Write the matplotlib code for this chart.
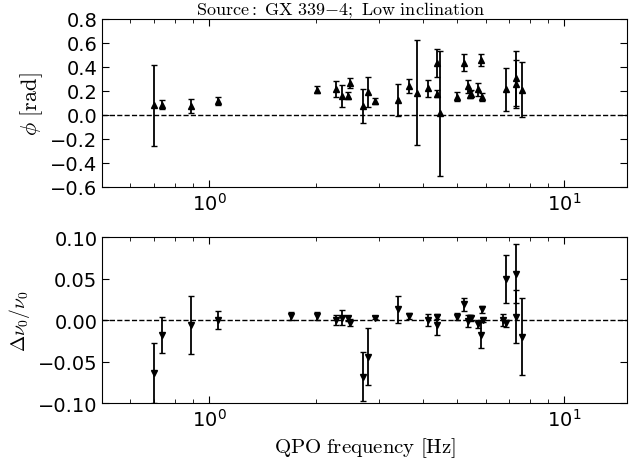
import matplotlib
matplotlib.use("Agg")
import matplotlib.pyplot as plt

# top panel: phase lag
freq_phi = [0.70, 0.736, 0.888, 1.06, 2.01, 2.28, 2.36, 2.46, 2.50, 2.72, 2.80, 2.93,
            3.41, 3.66, 3.85, 4.14, 4.37, 4.39, 4.47, 4.99, 5.21, 5.34, 5.41, 5.45,
            5.70, 5.81, 5.85, 6.83, 7.31, 7.31, 7.62]
phi = [0.08, 0.085, 0.072, 0.117, 0.21, 0.217, 0.16, 0.16, 0.264, 0.072, 0.189, 0.117,
       0.125, 0.239, 0.186, 0.222, 0.178, 0.433, 0.014, 0.152, 0.436, 0.24, 0.168, 0.178,
       0.212, 0.458, 0.15, 0.214, 0.305, 0.255, 0.211]
phi_err = [0.34, 0.036, 0.058, 0.035, 0.03, 0.065, 0.09, 0.03, 0.04, 0.14, 0.125, 0.025,
           0.13, 0.06, 0.44, 0.07, 0.03, 0.115, 0.52, 0.04, 0.07, 0.055, 0.03, 0.03,
           0.055, 0.05, 0.03, 0.18, 0.23, 0.2, 0.23]

# bottom panel: centroid shift
freq_nu = [0.70, 0.736, 0.888, 1.06, 1.70, 2.01, 2.28, 2.36, 2.46, 2.50, 2.72, 2.80,
           2.93, 3.41, 3.66, 4.14, 4.37, 4.39, 4.99, 5.21, 5.34, 5.41, 5.45, 5.70,
           5.81, 5.85, 5.91, 6.74, 6.83, 6.83, 7.31, 7.31, 7.62]
dnu = [-0.064, -0.018, -0.006, 0.0, 0.005, 0.005, 0.0, 0.003, 0.002, -0.003, -0.068, -0.044,
       0.003, 0.013, 0.005, 0.0, 0.004, -0.006, 0.004, 0.019, -0.001, 0.003, 0.002, -0.005,
       -0.018, 0.013, 0.0, 0.0, 0.049, -0.004, 0.056, 0.004, -0.020]
dnu_err = [0.036, 0.022, 0.035, 0.011, 0.005, 0.005, 0.006, 0.009, 0.003, 0.004, 0.03, 0.034,
           0.002, 0.016, 0.004, 0.007, 0.003, 0.012, 0.004, 0.008, 0.007, 0.003, 0.003, 0.005,
           0.016, 0.004, 0.002, 0.007, 0.029, 0.004, 0.036, 0.032, 0.046]

plt.rcParams['xtick.direction'] = 'in'
plt.rcParams['ytick.direction'] = 'in'
plt.rcParams['xtick.top'] = True
plt.rcParams['ytick.right'] = True
plt.rcParams['xtick.major.size'] = 5
plt.rcParams['xtick.minor.size'] = 3
plt.rcParams['ytick.major.size'] = 5
plt.rcParams['font.size'] = 13


def fmt(n):
    return matplotlib.ticker.FuncFormatter(
        lambda v, p: ('%.*f' % (n, v)).replace('-', '\u2212'))


fig = plt.figure(figsize=(6.39, 4.64), dpi=100)
ax1 = fig.add_axes([0.160, 0.595, 0.821, 0.362])
ax2 = fig.add_axes([0.160, 0.129, 0.821, 0.358])

ax1.errorbar(freq_phi, phi, yerr=phi_err, fmt='^', color='k', ms=5,
             elinewidth=1.3, capsize=2.5, capthick=1)
ax1.axhline(0, color='k', ls='--', lw=1)
ax1.set_xscale('log')
ax1.set_xlim(0.5, 15)
ax1.set_ylim(-0.6, 0.8)
ax1.set_yticks([-0.6, -0.4, -0.2, 0.0, 0.2, 0.4, 0.6, 0.8])
ax1.yaxis.set_major_formatter(fmt(1))
ax1.set_ylabel(r'$\phi\ \mathrm{[rad]}$', math_fontfamily='cm', fontsize=16)
ax1.set_title(r'$\mathrm{Source:\ GX\ 339{-}4;\ Low\ inclination}$',
              math_fontfamily='cm', fontsize=13, pad=2, x=0.455)

ax2.errorbar(freq_nu, dnu, yerr=dnu_err, fmt='v', color='k', ms=5,
             elinewidth=1.3, capsize=2.5, capthick=1)
ax2.axhline(0, color='k', ls='--', lw=1)
ax2.set_xscale('log')
ax2.set_xlim(0.5, 15)
ax2.set_ylim(-0.1, 0.1)
ax2.set_yticks([-0.10, -0.05, 0.0, 0.05, 0.10])
ax2.yaxis.set_major_formatter(fmt(2))
ax2.set_ylabel(r'$\Delta\nu_0/\nu_0$', math_fontfamily='cm', fontsize=14)
ax2.set_xlabel(r'$\mathrm{QPO\ frequency\ [Hz]}$', math_fontfamily='cm', fontsize=15)

for ax in (ax1, ax2):
    ax.tick_params(labelsize=14)

fig.savefig('out.png', dpi=100)
